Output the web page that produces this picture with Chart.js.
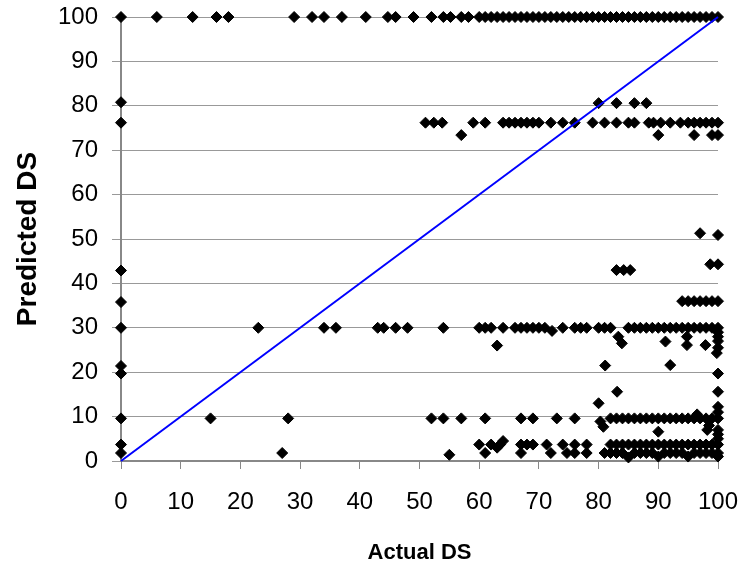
<!doctype html>
<html lang="en">
  <head>
    <meta charset="utf-8">
    <title>Predicted vs Actual DS</title>
    <script src="https://cdn.jsdelivr.net/npm/chart.js"></script>
    <style>
      html, body { margin: 0; padding: 0; background: #fff; }
      #wrap { width: 743px; height: 578px; }
    </style>
  </head>
  <body>
    <div id="wrap">
        <canvas id="myChart"></canvas>
    </div>

    <script>
        // rows of points sharing one predicted value
        const rowPredicted = [100, 80.6, 76.2, 73.4, 30, 9.6, 3.7, 1.8];
        const rowActual = [
            [0, 6, 12, 16, 18, 29, 32, 34, 37, 41, 44.7, 46, 49, 52, 54, 55.2, 57, 58.2,
             60, 61, 62, 63, 64, 65, 66, 67, 68, 69, 70, 71, 72, 73, 74, 75, 76, 77, 78, 79, 80,
             81, 82, 83, 84, 85, 86, 87, 88, 89, 90, 91, 92, 93, 94, 95, 96, 97, 98, 99, 100],
            [80, 83, 86, 88],
            [0, 51, 52.4, 53.8, 59, 61, 64, 65, 66, 67, 68, 69, 70, 72, 74, 76, 79, 81, 83, 85, 86,
             88.4, 89.2, 90.4, 92, 93.7, 95, 96, 97, 98, 99, 100],
            [57, 90, 96, 99, 100],
            [0, 23, 34, 36, 43, 44, 46, 48, 54, 60, 61, 62, 64, 66, 67, 68, 69, 70, 71, 74, 76, 77, 78,
             80, 81, 82, 85, 86, 87, 88, 89, 90, 91, 92, 93, 94, 95, 96, 97, 98, 99, 100],
            [0, 15, 28, 52, 54, 57, 61, 67, 69, 73, 76, 82, 83, 84, 85, 86, 87, 88, 89, 90, 91, 92,
             93, 94, 95, 96, 97, 98, 99, 100],
            [0, 60, 62, 63.5, 67, 68, 69, 71.3, 74, 76, 78, 82, 83, 84, 85, 86, 87, 88, 89, 90, 91,
             92, 93, 94, 95, 96, 97, 98, 99, 100],
            [0, 27, 61, 67, 72, 74.7, 76, 78, 81, 82, 83, 84, 86, 87, 88, 89, 91, 92, 93, 94, 96,
             97, 98, 99, 100]
        ];

        // scattered single points
        const otherActual = [0, 0, 0, 0, 0, 55, 63, 64, 63, 72.2, 83.3, 83.9, 91.2, 94.8, 94.8, 97.9,
            99.8, 100, 100, 100, 100, 81.1, 92, 100, 100, 83.1, 100, 80, 80.3, 80.8, 90, 98.2, 98.5,
            97, 100, 98.7, 100, 83, 84.2, 85.3, 94, 95, 96, 97, 98, 99, 100, 85, 90, 95, 100, 100,
            100, 100, 100, 96.5];
        const otherPredicted = [80.8, 42.9, 35.8, 21.4, 19.7, 1.4, 26, 4.5, 3, 29.3, 28, 26.5, 26.9,
            26.1, 28, 26.1, 24.3, 29, 28, 27, 25.5, 21.5, 21.6, 19.7, 15.6, 15.6, 12.2, 13, 8.9, 7.7,
            6.6, 7, 8, 51.3, 50.9, 44.3, 44.3, 43, 43, 43, 36, 36, 36, 36, 36, 36, 36, 0.8, 1, 1, 1,
            5, 6, 7, 11, 10.5];

        const idealLine = [{x: 0, y: 0}, {x: 100, y: 100}];
        const tickValues = [0, 10, 20, 30, 40, 50, 60, 70, 80, 90, 100];

        const points = [];
        rowPredicted.forEach((p, i) => {
            rowActual[i].forEach(a => points.push({x: a, y: p}));
        });
        otherActual.forEach((a, i) => points.push({x: a, y: otherPredicted[i]}));

        const fam = 'Liberation Sans, Arial, sans-serif';
        const tickFont = {family: fam, size: 24};

        const config = {
            type: 'scatter',
            data: {
                datasets: [
                    {
                        type: 'line',
                        data: idealLine,
                        borderColor: '#0000ff',
                        borderWidth: 2,
                        pointRadius: 0,
                        fill: false,
                        clip: false
                    },
                    {
                        data: points,
                        pointStyle: 'rectRot',
                        pointRadius: 5.5,
                        backgroundColor: '#000',
                        borderColor: '#000',
                        borderWidth: 1,
                        clip: false
                    }
                ]
            },
            options: {
                responsive: true,
                maintainAspectRatio: false,
                animation: false,
                layout: {padding: {top: 17, right: 25, left: 0, bottom: 0}},
                plugins: {legend: {display: false}, tooltip: {enabled: false}},
                scales: {
                    x: {
                        type: 'linear',
                        min: 0, max: 100,
                        afterBuildTicks: s => { s.ticks = tickValues.map(v => ({value: v})); },
                        afterFit: s => { s.height = 117; s.paddingLeft = 0; s.paddingRight = 0; },
                        ticks: {color: '#000', font: tickFont, padding: 19, maxRotation: 0},
                        grid: {drawOnChartArea: false, drawTicks: true, tickLength: 8, color: '#888', lineWidth: 1},
                        border: {display: true, color: '#888', width: 2},
                        title: {display: true, text: 'Actual DS', color: '#000',
                                font: {family: fam, size: 22, weight: 'bold'}, padding: {top: 0, bottom: 12}}
                    },
                    y: {
                        type: 'linear',
                        min: 0, max: 100,
                        afterBuildTicks: s => { s.ticks = tickValues.map(v => ({value: v})); },
                        afterFit: s => { s.width = 121; s.paddingTop = 0; s.paddingBottom = 0; },
                        ticks: {color: '#000', font: tickFont, padding: 14},
                        grid: {drawTicks: true, tickLength: 9, color: '#999', lineWidth: 1},
                        border: {display: true, color: '#888', width: 2},
                        title: {display: true, text: 'Predicted DS', color: '#000',
                                font: {family: fam, size: 28, weight: 'bold'}, padding: {top: 11, bottom: 0}}
                    }
                }
            }
        };

        const myChart = new Chart(document.getElementById('myChart'), config);
    </script>
  </body>
</html>
